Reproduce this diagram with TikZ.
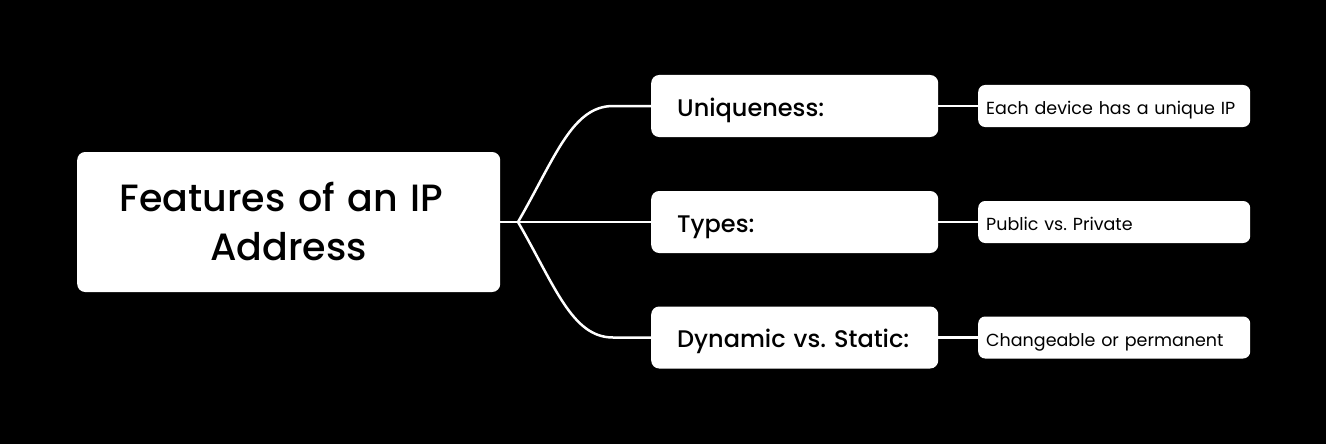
\documentclass[tikz,border=0pt]{standalone}
\usepackage{fontspec}
\setmainfont{Poppins}
\newfontfamily\pmed{Poppins Medium}
\frenchspacing
\begin{document}
\begin{tikzpicture}[x=1pt,y=-1pt,
  rootbox/.style={fill=white,rounded corners=8pt,minimum width=423pt,minimum height=140pt,text width=400pt,align=center,inner sep=0pt,font=\pmed\fontsize{38}{49}\selectfont,anchor=west},
  midbox/.style={fill=white,rounded corners=8pt,minimum width=287pt,minimum height=62pt,inner xsep=26pt,inner ysep=0pt,text width=235pt,text height=20pt,text depth=0pt,align=left,font=\pmed\fontsize{24}{28}\selectfont,anchor=west},
  leafbox/.style={fill=white,rounded corners=7pt,minimum width=272pt,minimum height=42pt,inner xsep=8pt,inner ysep=0pt,text width=256pt,text height=17pt,text depth=0pt,align=left,font=\fontsize{17.5}{20}\selectfont,anchor=west},
  link/.style={draw=white,line width=2.5pt}]
\fill[black] (0,0) rectangle (1326,444);
\useasboundingbox (0,0) rectangle (1326,444);
\node[rootbox] (root) at (77,222) {Features of an IP\kern14pt\\Address};
\node[midbox] (m1) at (651,106) {Uniqueness:};
\node[midbox] (m2) at (651,222) {Types:};
\node[midbox] (m3) at (651,337.5) {Dynamic vs. Static:};
\node[leafbox] (l1) at (978,106) {Each device has a unique IP};
\node[leafbox] (l2) at (978,222) {Public vs. Private};
\node[leafbox] (l3) at (978,337.5) {Changeable or permanent};
\coordinate (br) at (518,222);
\coordinate (c1) at (613,106);
\coordinate (c3) at (613,337.5);
\draw[link] (root.east) -- (br) -- (m2.west);
\draw[link] (br) .. controls (555,158) and (572,106) .. (c1) -- (m1.west);
\draw[link] (br) .. controls (555,286) and (572,337.5) .. (c3) -- (m3.west);
\draw[link] (m1.east) -- (l1.west);
\draw[link] (m2.east) -- (l2.west);
\draw[link] (m3.east) -- (l3.west);
\end{tikzpicture}
\end{document}
